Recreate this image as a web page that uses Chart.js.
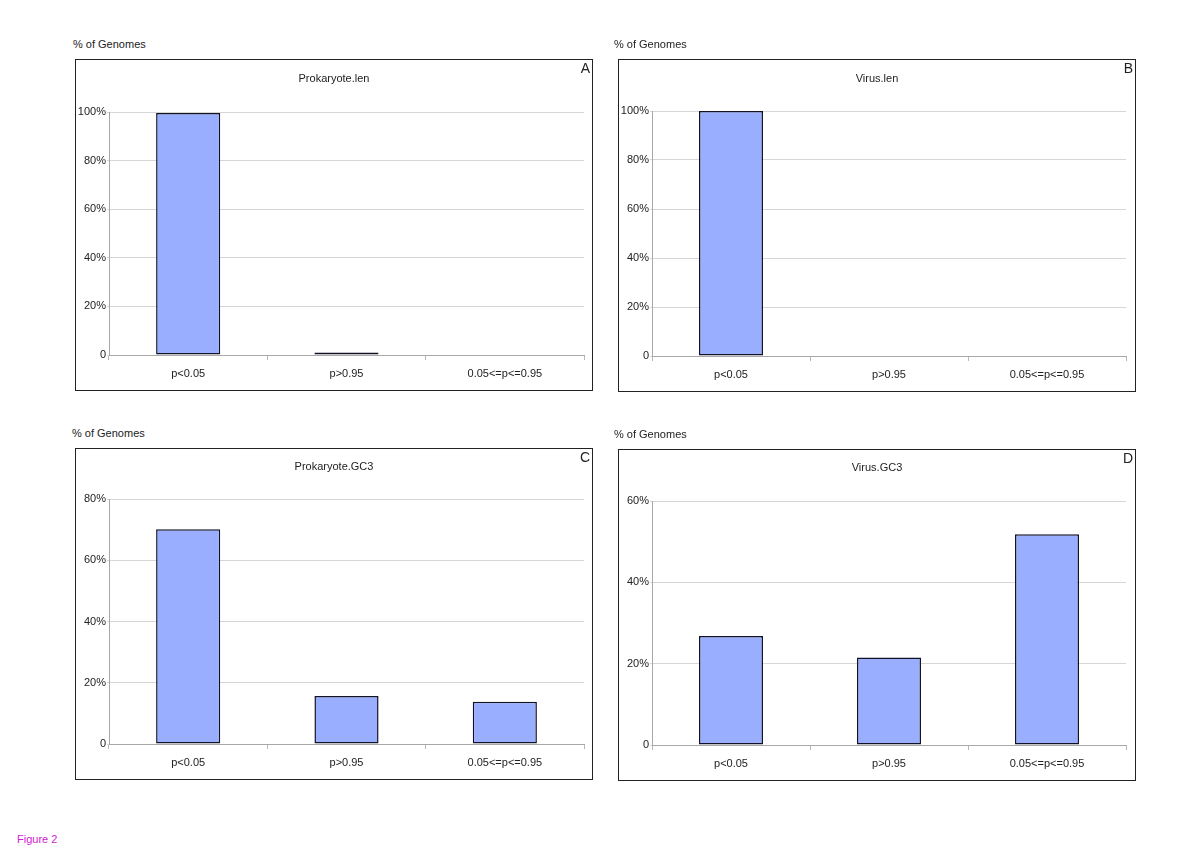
<!DOCTYPE html>
<html>
<head>
<meta charset="utf-8">
<script src="https://cdn.jsdelivr.net/npm/chart.js@4.4.1/dist/chart.umd.min.js"></script>
<style>
  html, body { margin: 0; padding: 0; background: #fff; }
  body { width: 1200px; height: 849px; position: relative; overflow: hidden;
         font-family: "Liberation Sans", Arial, sans-serif; color: #222; }
  .lbl { position: absolute; font-size: 11px; line-height: 13px; white-space: nowrap; }
  .box { position: absolute; border: 1px solid #222; box-sizing: border-box; background: #fff; }
  .box canvas { position: absolute; left: 0; top: 0; }
  .title { position: absolute; left: 0; right: 0; text-align: center; font-size: 11px; line-height: 13px; }
  .letter { position: absolute; font-size: 14px; line-height: 15px; }
  .fig { position: absolute; left: 17px; top: 833px; font-size: 11px; color: #d21cd2; }
</style>
</head>
<body>
<script>
// ---- data ----
const categories = ["p<0.05", "p>0.95", "0.05<=p<=0.95"];
const titles = ["Prokaryote.len", "Virus.len", "Prokaryote.GC3", "Virus.GC3"];
const letters = ["A", "B", "C", "D"];
const valuesA = [99.6, 1.0, 0];
const valuesB = [100, 0, 0];
const valuesC = [70.1, 15.7, 13.8];
const valuesD = [26.8, 21.5, 51.8];
const yMax = [100, 100, 80, 60];
const yStep = 20;
const yAxisLabel = "% of Genomes";
const figureLabel = "Figure 2";

// ---- layout (positions only) ----
const panels = [
  { left: 75,  top: 59,  w: 518, h: 332, plot: { l: 33, r: 508, t: 52, b: 295 }, lblX: 73,  lblY: 38,  titleTop: 12 },
  { left: 618, top: 59,  w: 518, h: 333, plot: { l: 33, r: 507, t: 51, b: 296 }, lblX: 614, lblY: 38,  titleTop: 12 },
  { left: 75,  top: 448, w: 518, h: 332, plot: { l: 33, r: 508, t: 50, b: 295 }, lblX: 72,  lblY: 427, titleTop: 11 },
  { left: 618, top: 449, w: 518, h: 332, plot: { l: 33, r: 507, t: 51, b: 295 }, lblX: 614, lblY: 428, titleTop: 11 }
];
const seriesList = [valuesA, valuesB, valuesC, valuesD];

const fig = document.createElement('div');
fig.className = 'fig';
fig.textContent = figureLabel;
document.body.appendChild(fig);

panels.forEach((p, i) => {
  const lbl = document.createElement('div');
  lbl.className = 'lbl';
  lbl.style.left = p.lblX + 'px';
  lbl.style.top = p.lblY + 'px';
  lbl.textContent = yAxisLabel;
  document.body.appendChild(lbl);

  const box = document.createElement('div');
  box.className = 'box';
  box.style.left = p.left + 'px';
  box.style.top = p.top + 'px';
  box.style.width = p.w + 'px';
  box.style.height = p.h + 'px';
  document.body.appendChild(box);

  const cw = p.w - 2, ch = p.h - 2;
  const cv = document.createElement('canvas');
  cv.width = cw; cv.height = ch;
  cv.style.width = cw + 'px'; cv.style.height = ch + 'px';
  box.appendChild(cv);

  const t = document.createElement('div');
  t.className = 'title';
  t.style.top = p.titleTop + 'px';
  t.textContent = titles[i];
  box.appendChild(t);

  const L = document.createElement('div');
  L.className = 'letter';
  L.style.right = '2px';
  L.style.top = '1px';
  L.textContent = letters[i];
  box.appendChild(L);

  new Chart(cv, {
    type: 'bar',
    data: {
      labels: categories,
      datasets: [{
        data: seriesList[i],
        backgroundColor: '#9aaeff',
        borderColor: '#121226',
        borderWidth: 1.5,
        borderSkipped: false,
        barPercentage: 0.405,
        categoryPercentage: 1.0
      }]
    },
    options: {
      responsive: false,
      animation: false,
      devicePixelRatio: 1,
      layout: { padding: { left: 0, right: cw - p.plot.r, top: p.plot.t, bottom: 0 } },
      plugins: { legend: { display: false }, tooltip: { enabled: false }, title: { display: false } },
      scales: {
        x: {
          offset: true,
          grid: { drawOnChartArea: false, drawTicks: true, tickLength: 5, color: '#b8b8b8', offset: true },
          border: { color: '#a8a8a8' },
          ticks: { color: '#222', font: { family: 'Liberation Sans', size: 11 }, padding: 7, maxRotation: 0 },
          afterFit: (s) => { s.height = ch - p.plot.b; }
        },
        y: {
          min: 0, max: yMax[i],
          ticks: {
            stepSize: yStep,
            color: '#222',
            font: { family: 'Liberation Sans', size: 11 },
            padding: 1,
            callback: (v) => v === 0 ? '0' : v + '%'
          },
          grid: { color: '#d6d6d6', tickLength: 2, lineWidth: 1 },
          border: { color: '#a8a8a8' },
          afterFit: (s) => { s.width = p.plot.l; }
        }
      }
    }
  });
});
</script>
</body>
</html>
